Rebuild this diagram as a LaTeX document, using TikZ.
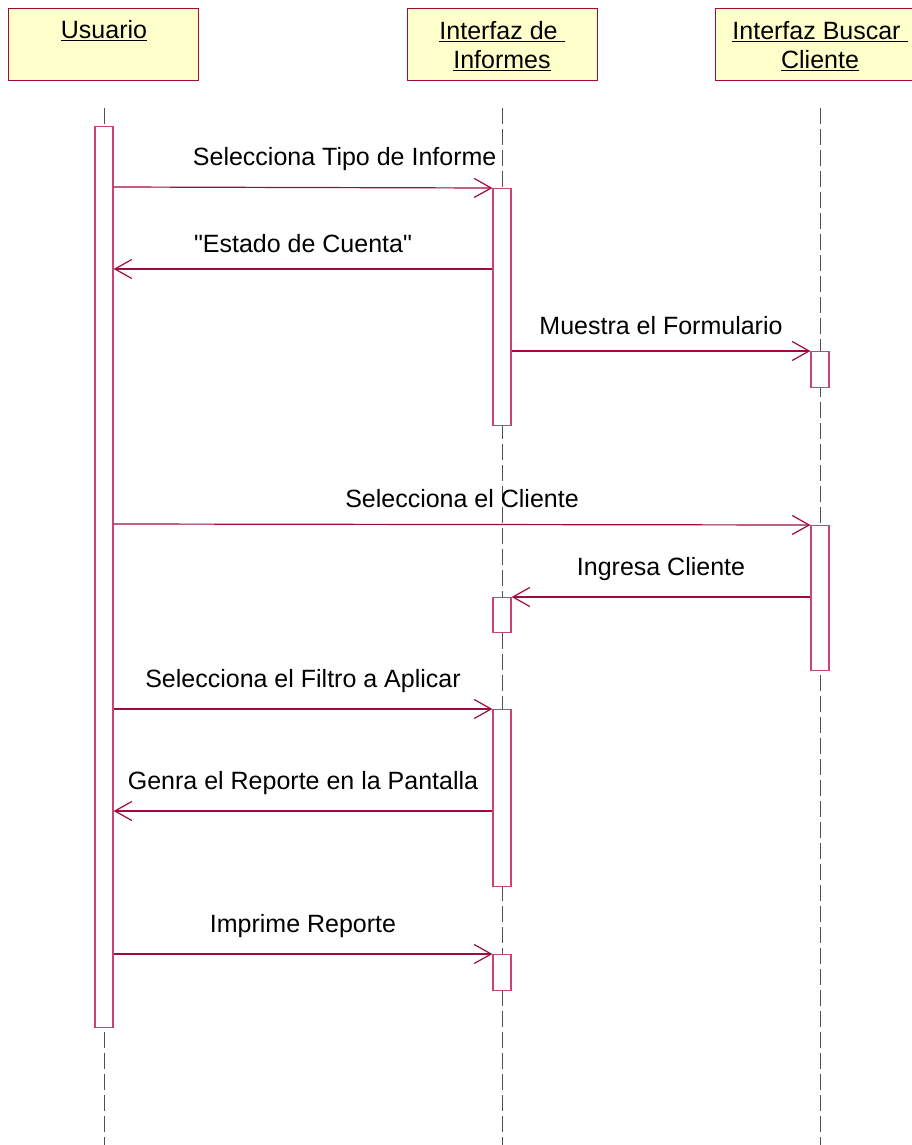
\documentclass[tikz,border=0pt]{standalone}
\usepackage{fontspec}
\setmainfont{Liberation Sans}[Ligatures=TeXOff]
\usetikzlibrary{arrows.meta}
\definecolor{msgc}{RGB}{160,10,60}
\definecolor{actc}{RGB}{200,70,110}
\definecolor{hdrfill}{RGB}{255,255,204}
\definecolor{lifec}{RGB}{80,80,80}
\begin{document}
\begin{tikzpicture}[x=1pt,y=-1pt,
  hdr/.style={draw=msgc,line width=1.4pt,fill=hdrfill,minimum width=190pt,minimum height=72pt,anchor=north west,inner sep=0pt},
  htext/.style={font=\fontsize{25}{30}\selectfont,align=center},
  act/.style={draw=actc,line width=1.2pt,fill=white,minimum width=18pt,inner sep=0pt,anchor=north},
  life/.style={draw=lifec,line width=1pt,dash pattern=on 16pt off 5pt},
  msg/.style={draw=msgc,line width=1.2pt,-{Straight Barb[length=17pt,width=19pt,line width=1.2pt]}},
  lbl/.style={font=\fontsize{25}{30}\selectfont,inner sep=0pt}]
\clip (0,0) rectangle (912,1145);
\useasboundingbox (0,0) rectangle (912,1145);
% lifelines
\coordinate (u0) at (104,108); \coordinate (u1) at (104,1145);
\coordinate (i0) at (502,108); \coordinate (i1) at (502,1145);
\coordinate (b0) at (820,108); \coordinate (b1) at (820,1145);
\draw[life] (u0) -- (u1);
\draw[life] (i0) -- (i1);
\draw[life] (b0) -- (b1);
% headers
\node[hdr] (hu) at (8,8) {};
\node[hdr] (hi) at (407,8) {};
\node[hdr,minimum width=220pt] (hb) at (715,8) {};
\node[htext] (tu) at (104,31) {\underline{Usuario}};
\node[htext] (ti) at (502,46) {\underline{Interfaz de\ }\\[-1pt]\underline{Informes}};
\node[htext] (tb) at (820,46) {\underline{Interfaz Buscar\ }\\[-1pt]\underline{Cliente}};
% activations
\node[act,minimum height=901pt] (au) at (104,126) {};
\node[act,minimum height=237pt] (ai1) at (502,188) {};
\node[act,minimum height=36pt] (ab1) at (820,351) {};
\node[act,minimum height=145pt] (ab2) at (820,525) {};
\node[act,minimum height=35pt] (ai2) at (502,597) {};
\node[act,minimum height=177pt] (ai3) at (502,709) {};
\node[act,minimum height=36pt] (ai4) at (502,954) {};
% messages
\draw[msg] (au.east |- 0,187) -- (ai1.north west) node[lbl,pos=0.61,above=16pt] (l1) {Selecciona Tipo de Informe};
\draw[msg] (ai1.west |- 0,269) -- (au.east |- 0,269) node[lbl,midway,above=16pt] (l2) {"Estado de Cuenta"};
\draw[msg] (ai1.east |- 0,351) -- (ab1.north west) node[lbl,midway,above=16pt] (l3) {Muestra el Formulario};
\draw[msg] (au.east |- 0,524) -- (ab2.north west) node[lbl,midway,above=16pt] (l4) {Selecciona el Cliente};
\draw[msg] (ab2.west |- 0,597) -- (ai2.north east) node[lbl,midway,above=16pt] (l5) {Ingresa Cliente};
\draw[msg] (au.east |- 0,709) -- (ai3.north west) node[lbl,midway,above=16pt] (l6) {Selecciona el Filtro a Aplicar};
\draw[msg] (ai3.west |- 0,811) -- (au.east |- 0,811) node[lbl,midway,above=16pt] (l7) {Genra el Reporte en la Pantalla};
\draw[msg] (au.east |- 0,954) -- (ai4.north west) node[lbl,midway,above=16pt] (l8) {Imprime Reporte};
\end{tikzpicture}
\end{document}
